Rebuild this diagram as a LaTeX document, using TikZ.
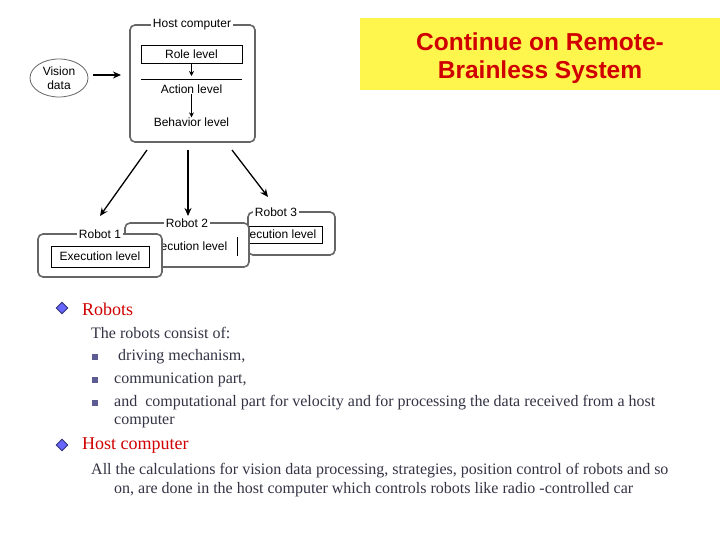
\documentclass[tikz,border=0pt]{standalone}
\usepackage{fontspec}
\setmainfont{Liberation Serif}
\setsansfont{Liberation Sans}
\usetikzlibrary{arrows.meta,shapes.geometric}
\definecolor{titlered}{HTML}{D00000}
\definecolor{bodytext}{HTML}{333344}
\definecolor{navy}{HTML}{333377}
\begin{document}
\begin{tikzpicture}[x=1pt,y=-1pt,
  frame/.style={draw=black!60,line width=1.6pt,rounded corners=5pt,fill=white},
  lbl/.style={font=\sffamily\fontsize{12}{14}\selectfont,fill=white,inner sep=1.5pt},
  dtxt/.style={font=\sffamily\fontsize{12}{14}\selectfont,inner sep=0pt},
  arr/.style={-{Stealth[length=8pt,width=7pt]},line width=1.3pt},
  sarr/.style={-{Stealth[length=5pt,width=5pt]},line width=1.2pt},
  body/.style={font=\fontsize{16}{18}\selectfont,text=bodytext,anchor=west,inner sep=0pt},
  head/.style={font=\fontsize{18}{20}\selectfont,text=titlered,anchor=west,inner sep=0pt},
  sq/.style={fill=navy!80,minimum size=5.5pt,inner sep=0pt},
  dia/.style={diamond,draw=navy,fill=blue!60!white,minimum size=12pt,inner sep=0pt,line width=0.9pt}]
\useasboundingbox (0,0) rectangle (720,540);
\fill[white] (0,0) rectangle (720,540);
% title
\fill[yellow!70!white] (360,18) rectangle (720,90);
\node[font=\sffamily\bfseries\fontsize{24.5}{28}\selectfont,text=titlered,align=center] (title) at (540,58) {Continue on Remote-\\Brainless System};
% host computer
\draw[frame] (130,25) rectangle (255,142);
\node[lbl] (host) at (192,25) {Host computer};
\node[draw,dtxt,minimum width=101pt,minimum height=18pt] (role) at (191.5,54) {Role level};
\draw[line width=0.8pt] (141,79) coordinate (la) -- (242,79) coordinate (lb);
\node[dtxt] (action) at (191.5,89) {Action level};
\node[dtxt] (behav) at (191.5,122) {Behavior level};
\draw[sarr] (role) -- (191.5,76);
\draw[sarr] (action) -- (behav);
% vision data
\node[ellipse,draw=black!60,line width=0.8pt,minimum width=58pt,minimum height=38pt,dtxt,align=center] (vision) at (59,78) {Vision\\data};
\coordinate (hostin) at (121,75);
\coordinate (vout) at (93,75);
\draw[arr] (vout) -- (hostin);
% robots
\draw[frame] (248,212) rectangle (335,255);
\node[draw,dtxt,minimum width=92pt,minimum height=17pt] (ex3) at (276,234.5) {Execution level};
\node[lbl] (r3) at (276,212) {Robot 3};
\draw[frame] (125,223) rectangle (249,267);
\node[dtxt] (ex2) at (187,246) {Execution level};
\draw[line width=0.8pt] (237,237) coordinate (va) -- (237,256) coordinate (vb);
\node[lbl] (r2) at (187,223) {Robot 2};
\draw[frame] (38,234) rectangle (162,277);
\node[draw,dtxt,minimum width=98pt,minimum height=21pt] (ex1) at (100,256.5) {Execution level};
\node[lbl] (r1) at (100,234) {Robot 1};
\coordinate (s1) at (147,150); \coordinate (s2) at (188,150); \coordinate (s3) at (232,150);
\coordinate (e1) at (100,216); \coordinate (e2) at (188,216); \coordinate (e3) at (268,197);
\draw[arr] (s1) -- (e1);
\draw[arr] (s2) -- (e2);
\draw[arr] (s3) -- (e3);
% text
\node[dia] (d1) at (62,308) {};
\node[head] (robots) at (82,309) {Robots};
\node[body] (b0) at (91,333) {The robots consist of:};
\node[sq] (q1) at (95,357) {}; \node[body] (b1) at (114,357) {\ driving mechanism,};
\node[sq] (q2) at (95,380) {}; \node[body] (b2) at (114,380) {communication part,};
\node[sq] (q3) at (95,403) {}; \node[body] (b3) at (114,403) {and\ \ computational part for velocity and for processing the data received from a host};
\node[body] (b4) at (114,422) {computer};
\node[dia] (d2) at (62,445) {};
\node[head] (hc) at (82,446) {Host computer};
\node[body] (c1) at (91,471) {All the calculations for vision data processing, strategies, position control of robots and so};
\node[body] (c2) at (114,490) {on, are done in the host computer which controls robots like radio -controlled car};
\end{tikzpicture}
\end{document}
